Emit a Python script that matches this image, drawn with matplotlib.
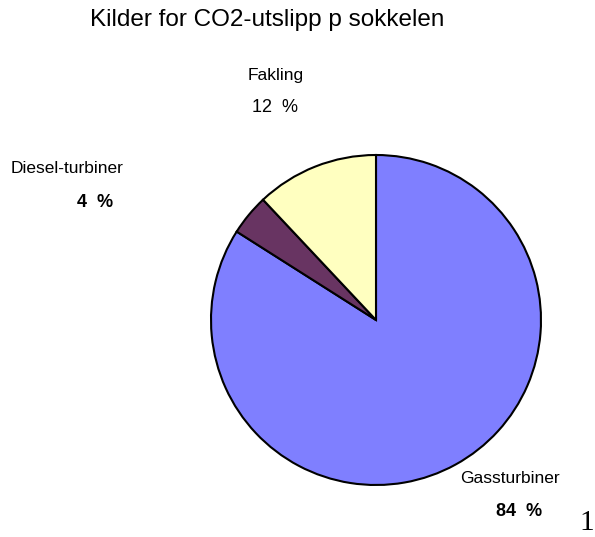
import matplotlib
matplotlib.use("Agg")
import matplotlib.pyplot as plt

plt.rcParams["font.family"] = ["Liberation Sans", "DejaVu Sans"]

# data
sources = ["Gassturbiner", "Diesel-turbiner", "Fakling"]
shares = [84, 4, 12]
colors = ["#7f7fff", "#683462", "#ffffc0"]

W, H = 595, 537
fig = plt.figure(figsize=(W / 100, H / 100), dpi=100)

# pie centre (376, 320) px, radius 165 px
cx, cy, r = 376, 320, 165
ax = fig.add_axes([(cx - r) / W, (H - cy - r) / H, 2 * r / W, 2 * r / H])
ax.pie(shares, colors=colors, startangle=90, counterclock=False, radius=1,
       wedgeprops=dict(edgecolor="black", linewidth=1.5))
ax.set_xlim(-1, 1)
ax.set_ylim(-1, 1)

#label positions in pie units
label_pos = {"Gassturbiner": (0.81, -0.96, 0.87, -1.16),
             "Diesel-turbiner": (-1.87, 0.92, -1.70, 0.715),
             "Fakling": (-0.61, 1.48, -0.61, 1.29)}
for name, share in zip(sources, shares):
    lx, ly, px, py = label_pos[name]
    ax.text(lx, ly, name, fontsize=12.5, ha="center", va="center", clip_on=False)
    ax.text(px, py, f"{share}  %", fontsize=13, ha="center", va="center",
            fontweight="normal" if name == "Fakling" else "bold", clip_on=False)

fig.text(267 / W, 1 - 20 / H, "Kilder for CO2-utslipp p sokkelen", fontsize=17.5,
         ha="center", va="center")
fig.text(587 / W, 1 - 523 / H, "1", fontsize=21, family="Liberation Serif",
         ha="center", va="center")

fig.savefig("out.png", dpi=100)
